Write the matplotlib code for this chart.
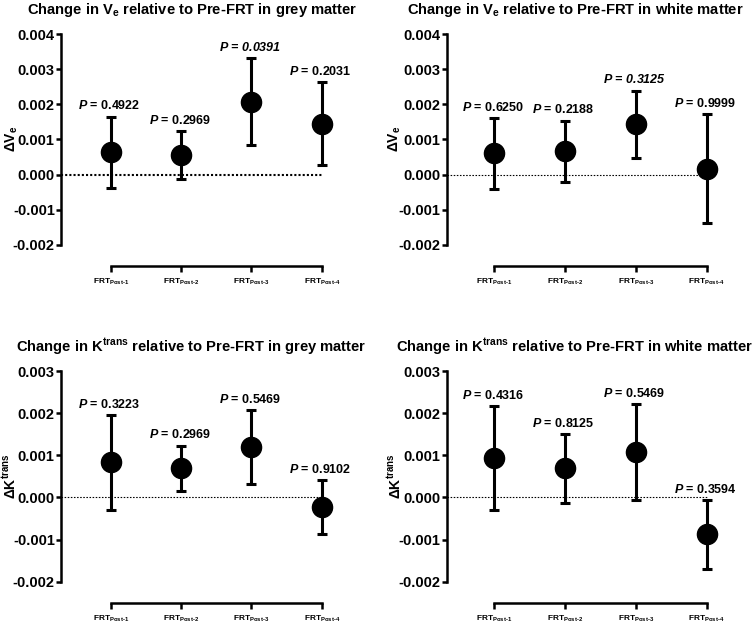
import matplotlib
matplotlib.use('Agg')
import matplotlib.pyplot as plt
import numpy as np

# fonts: Arial-like bold everywhere, mathtext mapped to the same family
plt.rcParams['font.family'] = 'Liberation Sans'
plt.rcParams['font.weight'] = 'bold'
plt.rcParams['mathtext.fontset'] = 'custom'
plt.rcParams['mathtext.rm'] = 'Liberation Sans:bold'
plt.rcParams['mathtext.bf'] = 'Liberation Sans:bold'
plt.rcParams['mathtext.it'] = 'Liberation Sans:bold:italic'
plt.rcParams['axes.unicode_minus'] = False

# categories
categories = [r'FRT$_{\text{Post-1}}$', r'FRT$_{\text{Post-2}}$',
              r'FRT$_{\text{Post-3}}$', r'FRT$_{\text{Post-4}}$']

# Ve grey matter
ve_grey_mean = [0.00064, 0.00056, 0.00208, 0.00144]
ve_grey_upper = [0.00165, 0.00124, 0.00331, 0.00264]
ve_grey_lower = [-0.00037, -0.00013, 0.00085, 0.00028]
ve_grey_p = ['0.4922', '0.2969', '0.0391', '0.2031']
ve_grey_sig = [False, False, True, False]

# Ve white matter
ve_white_mean = [0.00061, 0.00068, 0.00143, 0.00017]
ve_white_upper = [0.00160, 0.00154, 0.00239, 0.00173]
ve_white_lower = [-0.00041, -0.00020, 0.00047, -0.00137]
ve_white_p = ['0.6250', '0.2188', '0.3125', '0.9999']
ve_white_sig = [False, False, True, False]

# Ktrans grey matter
kt_grey_mean = [0.00083, 0.00069, 0.00119, -0.00022]
kt_grey_upper = [0.00196, 0.00123, 0.00207, 0.00042]
kt_grey_lower = [-0.00031, 0.00016, 0.00032, -0.00086]
kt_grey_p = ['0.3223', '0.2969', '0.5469', '0.9102']
kt_grey_sig = [False, False, False, False]

# Ktrans white matter
kt_white_mean = [0.00093, 0.00069, 0.00108, -0.00087]
kt_white_upper = [0.00216, 0.00150, 0.00222, -0.00006]
kt_white_lower = [-0.00031, -0.00013, -0.00007, -0.00169]
kt_white_p = ['0.4316', '0.8125', '0.5469', '0.3594']
kt_white_sig = [False, False, False, False]

ve_ticks = [-0.002, -0.001, 0.000, 0.001, 0.002, 0.003, 0.004]
kt_ticks = [-0.002, -0.001, 0.000, 0.001, 0.002, 0.003]

W, H = 755, 626
fig = plt.figure(figsize=(W / 100, H / 100), dpi=100)


def panel(rect, mean, upper, lower, pvals, sig, yticks, ylabel, ylabel_xy,
          title, title_xy, xlim, dot_lw, dot_style):
    ax = fig.add_axes(rect)
    # offset x axis (do this first, it resets the ticks)
    for side in ['top', 'right']:
        ax.spines[side].set_visible(False)
    ax.spines['left'].set_linewidth(1.8)
    ax.spines['bottom'].set_linewidth(1.8)
    ax.spines['bottom'].set_position(('outward', 15))

    x = np.arange(1, len(mean) + 1)
    mean = np.array(mean)
    err = [mean - np.array(lower), np.array(upper) - mean]
    ax.hlines(0, xlim[0], x[-1], colors='black', linewidth=dot_lw,
              linestyles=dot_style, zorder=1)
    ax.errorbar(x, mean, yerr=err, fmt='o', color='black', markersize=14.5,
                elinewidth=2.2, capsize=3.8, capthick=2.2, zorder=3)
    for xi, up, p, s in zip(x, upper, pvals, sig):
        ax.annotate(r'$\mathit{P}$ = ' + p, (xi, up), xytext=(-1, 3),
                    textcoords='offset points', ha='center', va='bottom',
                    fontsize=9, fontweight='bold',
                    fontstyle='italic' if s else 'normal')
    ax.set_xlim(*xlim)
    ax.set_ylim(yticks[0], yticks[-1])
    ax.set_yticks(yticks)
    ax.set_yticklabels(['%.3f' % t for t in yticks], fontsize=10.5,
                       fontweight='bold')
    ax.set_xticks(x)
    ax.set_xticklabels(categories)
    ax.spines['bottom'].set_bounds(x[0], x[-1])
    ax.tick_params(axis='y', direction='out', length=3.5, width=1.8, pad=1)
    ax.tick_params(axis='x', direction='out', length=4, width=1.8, pad=4,
                   labelsize=6)
    fig.text(ylabel_xy[0] / W, 1 - ylabel_xy[1] / H, ylabel, rotation=90,
             ha='center', va='center', fontsize=10, fontweight='bold')
    fig.text(title_xy[0] / W, 1 - title_xy[1] / H, title, ha='center',
             va='center', fontsize=10.6, fontweight='bold')
    return ax


panel([61 / W, 1 - 245 / H, 279 / W, 211 / H], ve_grey_mean, ve_grey_upper,
      ve_grey_lower, ve_grey_p, ve_grey_sig, ve_ticks,
      r'$\Delta$V$_\mathrm{e}$', (12, 139),
      r'Change in V$_\mathrm{e}$ relative to Pre-FRT in grey matter',
      (192, 10), (0.289, 4.26), 1.5, (0, (1, 1)))

panel([446.7 / W, 1 - 245 / H, 279 / W, 211 / H], ve_white_mean, ve_white_upper,
      ve_white_lower, ve_white_p, ve_white_sig, ve_ticks,
      r'$\Delta$V$_\mathrm{e}$', (395, 139),
      r'Change in V$_\mathrm{e}$ relative to Pre-FRT in white matter',
      (575, 10), (0.328, 4.27), 0.8, (0, (1.4, 1.4)))

panel([61 / W, 1 - 581.7 / H, 279 / W, 210.7 / H], kt_grey_mean, kt_grey_upper,
      kt_grey_lower, kt_grey_p, kt_grey_sig, kt_ticks,
      r'$\Delta$K$^\mathrm{trans}$', (10, 476),
      r'Change in K$^\mathrm{trans}$ relative to Pre-FRT in grey matter',
      (191, 347), (0.289, 4.26), 0.8, (0, (1.4, 1.4)))

panel([446.7 / W, 1 - 581.7 / H, 279 / W, 210.7 / H], kt_white_mean, kt_white_upper,
      kt_white_lower, kt_white_p, kt_white_sig, kt_ticks,
      r'$\Delta$K$^\mathrm{trans}$', (395, 476),
      r'Change in K$^\mathrm{trans}$ relative to Pre-FRT in white matter',
      (575, 347), (0.328, 4.27), 0.8, (0, (1.4, 1.4)))

fig.savefig('out.png', dpi=100)
